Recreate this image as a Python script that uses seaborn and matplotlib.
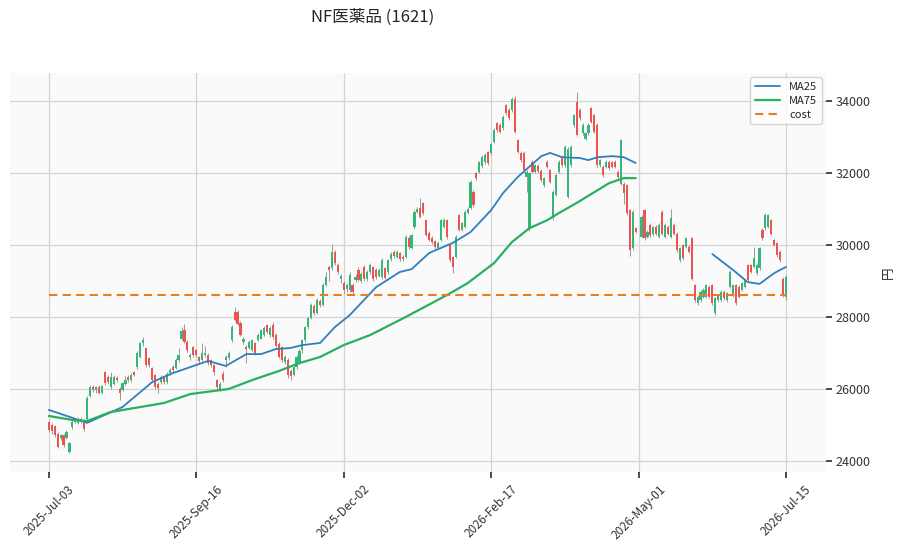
from __future__ import annotations

import matplotlib

matplotlib.use("Agg")
import matplotlib.pyplot as plt
import numpy as np
import pandas as pd
import seaborn as sns

nan = np.nan

TITLE = "NF医薬品 (1621)"
Y_LABEL = "円"
TICK_LABELS = ["2025-Jul-03", "2025-Sep-16", "2025-Dec-02", "2026-Feb-17", "2026-May-01", "2026-Jul-15"]
TICK_STEP = 50
COST = 28610

# daily OHLC, one entry per trading day (nan = missing day)
OPEN = [
    25090, 25000, 24960, 24760, 24630, 24720, 24630, 24260, 24950, 25180, 25050, 25180,
    25090, 25180, 25800, 26060, 25960, 26050, 25880, 26480, 26340, 26050, 26150, 26300,
    26000, 25970, 26150, 26340, 26250, 26460, 26620, 26900, 27270, 27130, 26850,
    26580, 26400, 26150, 26200, 26350, 26200, 26440, 26620, 26580, 26800, 27400, 27650,
    27310, 26900, 27180, 27080, 26900, 26800, 26940, 26950, 26800, 26660, 26250,
    25970, 26430, 26800, 26850, 27360, 28150, 28150, 27830, 27300, 27180, 27150, 27080,
    27270, 27360, 27400, 27500, 27780, 27500, 27780, 27500, 27250, 27170, 26750,
    26800, 26500, 26400, 26620, 26750, 27080, 27360, 27720, 27970, 28300, 28110, 28450,
    28330, 28900, 29400, 29360, 29800, 29440, 29050, 28950, 28780, 28750, 28880,
    29030, 29300, 29000, 29400, 29050, 29250, 29380, 29300, 29150, 29110, 29350, 29260,
    29600, 29800, 29680, 29780, 29680, 29680, 30200, 29910, 30510, 30930, 31020,
    31160, 30690, 30330, 30200, 30100, 29920, 30140, 30500, 30690, 30000, 29670, 29680,
    30830, 30420, 30510, 30900, 31020, 31480, 31990, 32040, 32200, 32300, 32590,
    32550, 32870, 33380, 33330, 33240, 33890, 33750, 33750, 34070, 32920, 32550, 32550,
    31900, 30460, 32310, 32040, 32200, 32050, 31670, 32310, 32080,
    30790, 31390, 32040, 32450, 32220, 31340, 32220, 33330, 33980, 33750, 33100, 32960,
    33100, 33800, 33610, 33330, 32220, 32180, 32180, 32310, 32300, 32310, 32040, 31710,
    31710, 31670, 30970, 29910, 30460,
    nan,
    30230, 30970, 30230, 30560, 30300, 30510, 30230, 30920, 30230, 30510, 30230,
    30560, 30320, 29580, 30000, 29950, 29950, 30190, 28890, 28380, 28470, 28560, 28560,
    28840, 28890, 28100,
    28470, 28470, 28700, 28470, 28840, 28610, 28890, 28840, 28750, 28840, 29450, 29450,
    29400, 29210,
    29350, 30420, 30460, 30510, 30690, 30140, 30050, 29820, 29070, 28560,
]
CLOSE = [
    24860, 24820, 24720, 24400, 24720, 24440, 24800, 24490, 25090, 25090, 25180, 25100,
    24880, 25740, 26060, 25970, 26050, 25880, 26080, 26160, 26200, 26340, 26340, 26250,
    25880, 26160, 26250, 26250, 26400, 26380, 27000, 27270, 27360, 26670, 26660,
    26250, 26060, 26020, 26340, 26200, 26430, 26530, 26530, 26800, 26950, 27600, 27310,
    27080, 26950, 26950, 26950, 26790, 26990, 27000, 26710, 26660, 26480, 26060,
    26150, 26250, 26900, 27000, 27730, 27920, 27820, 27500, 27400, 27100, 27300, 27360,
    26990, 27500, 27640, 27690, 27590, 27690, 27440, 27200, 26900, 26800, 26900,
    26400, 26350, 26600, 26900, 27050, 27360, 27720, 27970, 28330, 28110, 28470, 28330,
    28890, 29100, 29300, 29800, 29500, 29250, 29130, 28750, 28900, 29170, 28700,
    29110, 29030, 29200, 29050, 29250, 29440, 29050, 29100, 29300, 29580, 29080, 29580,
    29750, 29700, 29810, 29600, 29600, 30230, 29950, 30280, 30930, 31000, 30790,
    30880, 30280, 30140, 30080, 29950, 30050, 30690, 30690, 30230, 29580, 29400, 30230,
    30420, 30600, 30930, 31000, 31760, 31110, 31850, 32300, 32450, 32500, 32270,
    32820, 33190, 33190, 33150, 33560, 33660, 33520, 34070, 33150, 32590, 32350, 32080,
    32040, 31990, 32040, 32220, 32050, 31800, 31850, 32180, 31760,
    31480, 31940, 32310, 32220, 32730, 32680, 32730, 33610, 33060, 33520, 33330, 33100,
    33330, 33430, 33150, 32220, 32360, 31940, 32310, 32130, 32180, 32170, 31900, 32920,
    31440, 30880, 29860, 30920, 30370,
    nan,
    30790, 30190, 30370, 30280, 30500, 30320, 30560, 30320, 30560, 30320, 30740,
    30320, 29860, 29910, 29630, 30190, 29810, 29070, 28470, 28560, 28700, 28750, 28890,
    28560, 28380, 28520,
    28610, 28700, 28520, 28660, 29260, 28890, 28380, 28560, 28940, 29030, 29030, 29260,
    29630, 29450,
    29910, 30190, 30830, 30830, 30320, 30000, 29720, 29580, 28650, 29120,
]
HIGH = [
    25150, 25060, 25000, 24800, 24760, 24760, 24850, 24520, 25130, 25200, 25230, 25220,
    25130, 25800, 26120, 26100, 26090, 26100, 26110, 26500, 26380, 26480, 26400, 26350,
    26050, 26200, 26360, 26380, 26450, 26500, 27050, 27300, 27450, 27180, 26900,
    26600, 26420, 26200, 26400, 26380, 26460, 26580, 26660, 26850, 27150, 27730, 27800,
    27350, 27000, 27200, 27120, 26930, 27270, 27200, 26990, 26840, 26700, 26280,
    26200, 26500, 26950, 27050, 27780, 28290, 28200, 27880, 27450, 27230, 27350, 27400,
    27300, 27550, 27680, 27750, 27820, 27750, 27850, 27550, 27300, 27200, 26950,
    26850, 26550, 26650, 26950, 27100, 27400, 27750, 28000, 28380, 28350, 28520, 28500,
    28950, 29250, 29450, 30020, 29850, 29500, 29200, 29000, 28950, 29250, 28950,
    29200, 29380, 29250, 29450, 29300, 29500, 29420, 29350, 29350, 29650, 29400, 29620,
    29800, 29850, 29850, 29820, 29720, 30280, 30250, 30320, 30980, 31050, 31320,
    31200, 30720, 30380, 30250, 30140, 30100, 30720, 30740, 30720, 30040, 29700, 30280,
    30870, 30650, 30970, 31050, 31800, 31520, 32040, 32340, 32500, 32550, 32620,
    32860, 33240, 33420, 33380, 33600, 33930, 33800, 34120, 34150, 32960, 32600, 32600,
    32080, 32040, 32350, 32260, 32240, 32100, 31900, 32350, 32120,
    31520, 31980, 32350, 32490, 32780, 32720, 32780, 33650, 34260, 33800, 33380, 33150,
    33380, 33840, 33650, 33380, 32400, 32220, 32350, 32350, 32340, 32360, 32080, 32950,
    31760, 31700, 31010, 30960, 30500,
    nan,
    30830, 31010, 30410, 30600, 30540, 30550, 30600, 30970, 30600, 30550, 30990,
    30600, 30360, 29950, 30040, 30230, 30000, 30230, 28930, 28610, 28750, 28800, 28930,
    28880, 28930, 28560,
    28650, 28740, 28740, 28700, 29300, 28930, 28930, 28880, 28980, 29070, 29480, 29480,
    29950, 29480,
    29950, 30460, 30880, 30870, 30730, 30180, 30090, 29850, 29120, 29180,
]
LOW = [
    24800, 24760, 24680, 24350, 24580, 24400, 24600, 24210, 24900, 25050, 25020, 25060,
    24830, 25150, 25780, 25930, 25900, 25850, 25860, 26120, 26150, 26000, 26100, 26200,
    25700, 25940, 26100, 26200, 26200, 26350, 26560, 26850, 27200, 26620, 26600,
    26200, 25990, 25900, 26150, 26150, 26150, 26400, 26480, 26550, 26760, 27350, 27280,
    27030, 26800, 26900, 26900, 26700, 26770, 26900, 26680, 26620, 26400, 25970,
    25940, 26200, 26600, 26800, 27300, 27880, 27780, 27460, 27250, 26720, 27100, 27050,
    26950, 27320, 27380, 27470, 27550, 27450, 27400, 27150, 26850, 26750, 26700,
    26300, 26250, 26350, 26550, 26700, 27000, 27300, 27680, 27950, 28050, 28080, 28280,
    28300, 28850, 28990, 29300, 29450, 29200, 28950, 28650, 28700, 28700, 28650,
    28980, 28990, 28950, 29000, 29000, 29200, 29000, 29050, 29100, 29050, 29050, 29200,
    29550, 29650, 29640, 29560, 29550, 29650, 29900, 29880, 30450, 30880, 30750,
    30840, 30240, 30100, 30040, 29900, 29880, 30100, 30460, 30180, 29540, 29210, 29650,
    30380, 30380, 30480, 30850, 30990, 31070, 31800, 32000, 32150, 32260, 32230,
    32500, 32830, 33150, 33100, 33200, 33620, 33480, 33700, 33100, 32550, 32300, 32040,
    31480, 30400, 32000, 32000, 32000, 31750, 31620, 32140, 31720,
    30700, 31350, 32000, 32180, 32180, 31300, 32180, 33280, 33020, 33480, 33060, 32920,
    33060, 33390, 33100, 32180, 32180, 31900, 32140, 32090, 32140, 32130, 31850, 31680,
    31150, 30840, 29700, 29870, 30330,
    nan,
    30190, 30140, 30190, 30230, 30260, 30280, 30190, 30280, 30190, 30280, 30190,
    30280, 29820, 29540, 29590, 29910, 29770, 29030, 28430, 28330, 28430, 28520, 28520,
    28520, 28340, 28050,
    28430, 28430, 28470, 28430, 28800, 28570, 28340, 28520, 28710, 28800, 28990, 29220,
    29360, 29170,
    29300, 30140, 30420, 30470, 30280, 29960, 29680, 29540, 28550, 28480,
]

# moving averages at sample days (day index, value)
MA25_DAYS_1 = [0, 13, 25, 33, 35, 42, 54, 60, 67, 72, 77, 82, 86, 92, 97, 102, 111, 119,
               123, 129, 137, 143, 150, 154, 159, 167, 170, 174, 180, 183, 186, 191, 195, 199]
MA25_VALS_1 = [25420, 25060, 25500, 26050, 26190, 26440, 26780, 26640, 26970, 26970, 27110,
               27140, 27220, 27280, 27720, 28050, 28830, 29250, 29330, 29780, 30060, 30360,
               30970, 31440, 31890, 32470, 32560, 32440, 32420, 32360, 32440, 32470, 32440, 32280]
MA25_DAYS_2 = [225, 232, 237, 241, 246, 248, 250]
MA25_VALS_2 = [29750, 29310, 28970, 28920, 29220, 29310, 29390]
MA75_DAYS = [0, 8, 13, 21, 39, 48, 61, 69, 78, 85, 92, 100, 109, 121, 135, 142, 151, 157,
             163, 169, 173, 179, 185, 190, 195, 199]
MA75_VALS = [25250, 25140, 25110, 25360, 25610, 25860, 26000, 26250, 26500, 26720, 26890,
             27220, 27500, 28000, 28610, 28940, 29500, 30080, 30470, 30690, 30890, 31170,
             31470, 31720, 31860, 31860]

UP = "#35b779"
DOWN = "#ef5350"
WICK = "#9a9a9a"
MA25_COLOR = "#2f7fbf"
MA75_COLOR = "#27b060"
COST_COLOR = "#e67e22"


def set_style() -> None:
    sns.set_theme(style="whitegrid")
    plt.rcParams.update(
        {
            "axes.facecolor": "#fafafa",
            "grid.color": "#d4d4d4",
            "grid.linewidth": 0.9,
            "xtick.bottom": True,
            "ytick.right": True,
            "xtick.major.size": 4,
            "ytick.major.size": 4,
            "xtick.color": "#333333",
            "ytick.color": "#333333",
        }
    )
    plt.rcParams["font.family"] = ["Noto Sans CJK JP", "DejaVu Sans"]


def draw_candles(ax, ohlc: pd.DataFrame) -> None:
    valid = ohlc.dropna()
    rising = valid["close"] >= valid["open"]
    for mask, color in ((rising, UP), (~rising, DOWN)):
        part = valid[mask]
        ax.vlines(part.index, part["low"], part["high"], color=WICK, lw=0.7, zorder=2)
        ax.bar(
            part.index,
            (part["close"] - part["open"]).abs(),
            bottom=part[["open", "close"]].min(axis=1),
            width=0.72,
            color=color,
            lw=0,
            zorder=3,
        )


def main() -> None:
    set_style()
    ohlc = pd.DataFrame({"open": OPEN, "high": HIGH, "low": LOW, "close": CLOSE})
    n = len(ohlc)

    fig = plt.figure(figsize=(8.98, 5.49), dpi=100)
    ax = fig.add_axes([0.011, 0.14, 0.909, 0.727])

    draw_candles(ax, ohlc)
    sns.lineplot(x=MA25_DAYS_1, y=MA25_VALS_1, ax=ax, color=MA25_COLOR, lw=1.3, label="MA25", zorder=4)
    sns.lineplot(x=MA25_DAYS_2, y=MA25_VALS_2, ax=ax, color=MA25_COLOR, lw=1.3, zorder=4)
    sns.lineplot(x=MA75_DAYS, y=MA75_VALS, ax=ax, color=MA75_COLOR, lw=1.6, label="MA75", zorder=4)
    sns.lineplot(x=[0, n - 1], y=[COST, COST], ax=ax, color=COST_COLOR, lw=1.5,
                 linestyle=(0, (4, 2.5)), label="cost", zorder=4)

    ax.set_xlim(-13.2, n + 12.6)
    ax.set_ylim(23690, 34780)
    ax.set_xticks(np.arange(len(TICK_LABELS)) * TICK_STEP)
    ax.set_xticklabels(TICK_LABELS, rotation=45, ha="center", fontsize=8.5)
    ax.yaxis.tick_right()
    ax.yaxis.set_label_position("right")
    ax.set_yticks([24000, 26000, 28000, 30000, 32000, 34000])
    ax.tick_params(axis="y", labelsize=9, pad=3)
    ax.set_ylabel(Y_LABEL, fontsize=9, labelpad=8)
    ax.set_xlabel("")
    for spine in ax.spines.values():
        spine.set_visible(False)

    ax.legend(loc="upper right", fontsize=8, frameon=True, facecolor="white",
              edgecolor="#cccccc", framealpha=0.8, borderaxespad=0.4, handlelength=2.3,
              labelspacing=0.35)

    fig.text(0.415, 0.968, TITLE, ha="center", va="center", fontsize=12)
    fig.savefig("out.png", dpi=100)
    plt.close(fig)


if __name__ == "__main__":
    main()
